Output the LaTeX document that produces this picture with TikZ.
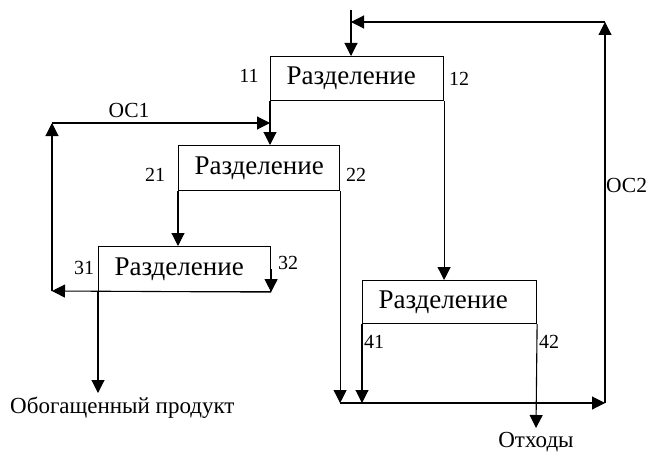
\documentclass[tikz,border=0pt]{standalone}
\usepackage{fontspec}
\setmainfont{Liberation Serif}
\usetikzlibrary{arrows.meta,calc}
\begin{document}
\begin{tikzpicture}[x=1pt,y=1pt,
  box/.style={draw, line width=1.1pt, inner xsep=16pt, inner ysep=0pt, align=left, minimum height=44pt, anchor=north west, font=\fontsize{27}{29}\selectfont},
  arr/.style={line width=1.1pt, -{Triangle[length=13pt,width=13pt]}},
  num/.style={font=\fontsize{20}{22}\selectfont, inner sep=0pt},
  txt/.style={font=\fontsize{23}{25}\selectfont, inner sep=0pt},
  oc/.style={font=\fontsize{21.5}{24}\selectfont, inner sep=0pt}]
\useasboundingbox (0,0) rectangle (647,-452);
% boxes
\node[box, text width=141pt] (b1) at (270,-56) {Разделение};
\node[box, text width=129pt, minimum height=45pt] (b2) at (178,-145) {Разделение};
\node[box, text width=140pt, minimum height=45pt] (b3) at (98,-246) {Разделение};
\node[box, text width=142pt, minimum height=43pt] (b4) at (362,-280) {Разделение};
% coordinates
\coordinate (in) at (351,-10);
\coordinate (oc2tr) at (605,-22);
\coordinate (oc2br) at (605,-403);
\coordinate (oc1tl) at (52,-123);
\coordinate (oc1bl) at (52,-291);
\coordinate (prod) at (98,-393);
\coordinate (waste) at (536,-428);
% input
\draw[arr] (in) -- (in |- b1.north);
% OC2 loop
\draw[arr] (b2.south east |- oc2br) -- (oc2br);
\draw[arr] (oc2br) -- (oc2tr);
\draw[arr] (oc2tr) -- (in |- oc2tr);
% box 1 outputs
\draw[arr] (b1.south west) -- (b1.south west |- b2.north);
\draw[arr] (b1.south east) -- (b1.south east |- b4.north);
% box 2 outputs
\draw[arr] (b2.south west) -- (b2.south west |- b3.north);
\draw[arr] (b2.south east) -- (b2.south east |- oc2br);
% box 3 outputs
\draw[arr] (b3.east) -- (b3.south east);
\draw[arr] (b3.south east) -- (oc1bl);
\draw[arr] (oc1bl) -- (oc1tl);
\draw[arr] (oc1tl) -- (oc1tl -| b1.south west);
\draw[arr] (b3.south west) -- (prod);
% box 4 outputs
\draw[arr] (b4.south west) -- (b4.south west |- oc2br);
\draw[arr] (b4.south east) -- (waste);
% labels
\node[num] (l11) at (249,-76) {11};
\node[num] (l12) at (459,-79) {12};
\node[num] (l21) at (155,-175) {21};
\node[num] (l22) at (356,-175) {22};
\node[num] (l31) at (84,-268) {31};
\node[num] (l32) at (288,-263) {32};
\node[num] (l41) at (374,-342) {41};
\node[num] (l42) at (549,-342) {42};
\node[oc] (loc1) at (129,-110) {ОС1};
\node[oc, anchor=west] (loc2) at (606,-185) {ОС2};
\node[txt, anchor=west] (lprod) at (10,-408) {Обогащенный продукт};
\node[txt] (lwaste) at (536,-442) {Отходы};
\end{tikzpicture}
\end{document}
